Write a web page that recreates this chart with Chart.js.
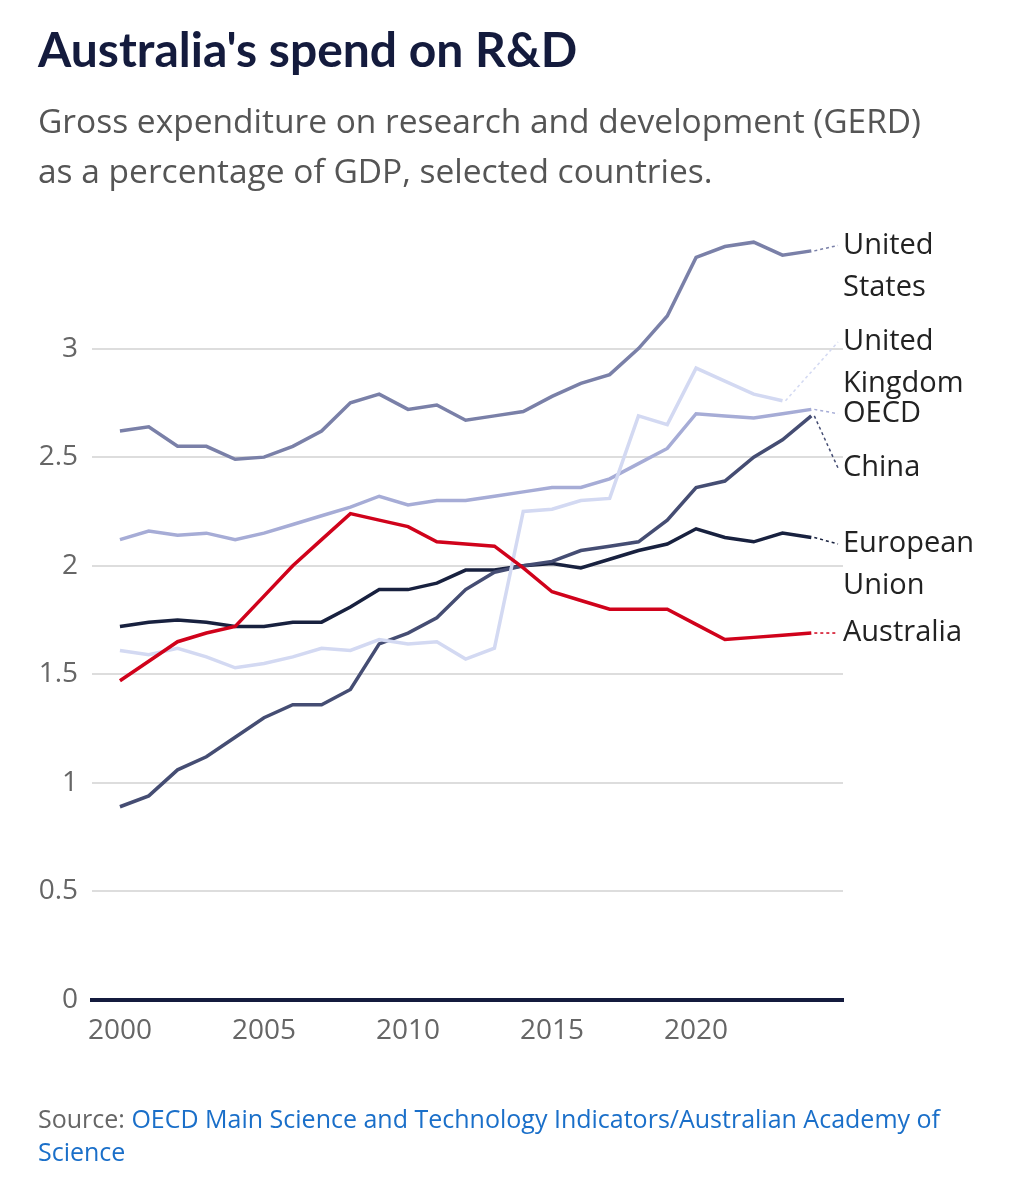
<!DOCTYPE html>
<html><head><meta charset="utf-8">
<script src="https://cdn.jsdelivr.net/npm/chart.js@4"></script>
<style>
body{margin:0;background:#fff;font-family:Lato,"Open Sans",sans-serif;}
#wrap{position:relative;width:1026px;height:1200px;}
#t{position:absolute;left:38px;top:20px;font:bold 48px Lato;color:#141b3d;margin:0}
#s{position:absolute;left:38px;top:95px;font:33.5px "Open Sans";color:#555;line-height:50px}
#src{position:absolute;left:38px;top:1102px;font:25px "Open Sans";color:#666;line-height:33px}
#src span{color:#1a6fc9}
canvas{position:absolute;left:0;top:0}
</style></head><body><div id="wrap">
<canvas id="c" width="1026" height="1200"></canvas>
<div id="t">Australia's spend on R&amp;D</div>
<div id="s">Gross expenditure on research and development (GERD)<br>as a percentage of GDP, selected countries.</div>
<div id="src">Source: <span>OECD Main Science and Technology Indicators/Australian Academy of<br>Science</span></div>
</div>
<script>
const years=[2000,2001,2002,2003,2004,2005,2006,2007,2008,2009,2010,2011,2012,2013,2014,2015,2016,2017,2018,2019,2020,2021,2022,2023,2024];
const us=[2.62,2.64,2.55,2.55,2.49,2.50,2.55,2.62,2.75,2.79,2.72,2.74,2.67,2.69,2.71,2.78,2.84,2.88,3.00,3.15,3.42,3.47,3.49,3.43,3.45];
const uk=[1.61,1.59,1.62,1.58,1.53,1.55,1.58,1.62,1.61,1.66,1.64,1.65,1.57,1.62,2.25,2.26,2.30,2.31,2.69,2.65,2.91,2.85,2.79,2.76,null];
const oecd=[2.12,2.16,2.14,2.15,2.12,2.15,2.19,2.23,2.27,2.32,2.28,2.30,2.30,2.32,2.34,2.36,2.36,2.40,2.47,2.54,2.70,2.69,2.68,2.70,2.72];
const china=[0.89,0.94,1.06,1.12,1.21,1.30,1.36,1.36,1.43,1.64,1.69,1.76,1.89,1.97,2.00,2.02,2.07,2.09,2.11,2.21,2.36,2.39,2.50,2.58,2.69];
const eu=[1.72,1.74,1.75,1.74,1.72,1.72,1.74,1.74,1.81,1.89,1.89,1.92,1.98,1.98,2.00,2.01,1.99,2.03,2.07,2.10,2.17,2.13,2.11,2.15,2.13];
const aus=[1.47,1.56,1.65,1.69,1.72,1.86,2.00,2.12,2.24,2.21,2.18,2.11,2.10,2.09,1.99,1.88,1.84,1.80,1.80,1.80,1.73,1.66,1.67,1.68,1.69];
const names=[["United","States"],["United","Kingdom"],["OECD"],["China"],["European","Union"],["Australia"]];
const colors=["#7a80a8","#d3d9f2","#a6acd6","#454d73","#18213f","#d0021b"];
const labelAt=[3.475,3.03,2.70,2.45,2.10,1.69];
const xTicks=[2000,2005,2010,2015,2020];
const yTicks=[0,0.5,1,1.5,2,2.5,3];
const series=[us,uk,oecd,china,eu,aus];
const datasets=series.map((s,i)=>({data:years.map((y,j)=>({x:y,y:s[j]})).filter(p=>p.y!==null),borderColor:colors[i],borderWidth:3.5,pointRadius:0,tension:0,order:i===5?-1:0}));
const lbl={id:'lbl',afterDatasetsDraw(ch){const c=ch.ctx,xs=ch.scales.x,ys=ch.scales.y;c.save();
series.forEach((s,i)=>{let j=s.length-1;while(s[j]===null)j--;const x0=xs.getPixelForValue(years[j])+3,y0=ys.getPixelForValue(s[j]);const y1=ys.getPixelForValue(labelAt[i]);
c.setLineDash([3,3]);c.strokeStyle=colors[i];c.lineWidth=1.5;c.beginPath();c.moveTo(x0,y0);c.lineTo(838,y1);c.stroke();c.setLineDash([]);
c.fillStyle='#222';c.font='29px "Open Sans"';c.textBaseline='middle';names[i].forEach((t,k)=>c.fillText(t,843,y1+k*42));});
c.restore();}};
new Chart(document.getElementById('c'),{type:'line',data:{datasets},plugins:[lbl],options:{responsive:false,animation:false,
layout:{padding:{top:240,right:183,bottom:140,left:0}},plugins:{legend:{display:false},tooltip:{enabled:false}},
scales:{x:{type:'linear',min:1999.03,max:2025.1,afterFit:s=>{s.height=60},afterBuildTicks:s=>{s.ticks=xTicks.map(v=>({value:v}))},
grid:{display:false},border:{color:'#141b3d',width:4},ticks:{color:'#666',font:{size:28,family:'Open Sans'},padding:6,callback:v=>String(v)}},
y:{min:0,max:3.5,afterFit:s=>{s.width=92},afterBuildTicks:s=>{s.ticks=yTicks.map(v=>({value:v}))},border:{display:false},
grid:{color:'#dddddd',lineWidth:2,drawTicks:false},ticks:{color:'#666',font:{size:28,family:'Open Sans'},padding:14,callback:v=>String(v)}}}}});
</script></body></html>
